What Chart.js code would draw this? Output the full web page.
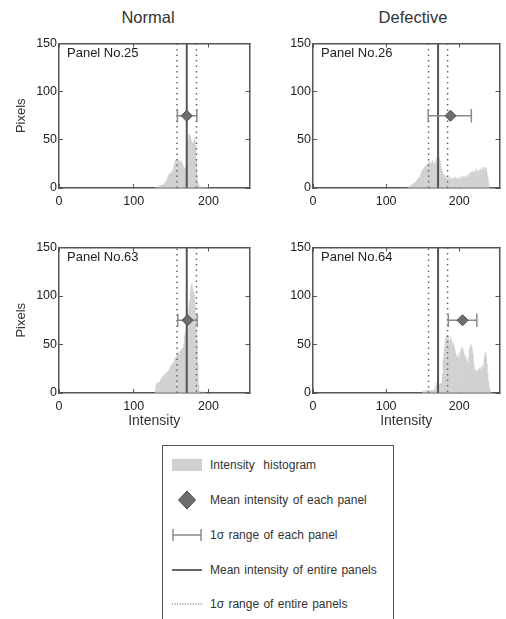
<!DOCTYPE html>
<html>
<head>
  <meta charset="UTF-8">
  <title>Intensity histograms: Normal vs Defective panels</title>
  <script src="https://cdn.jsdelivr.net/npm/chart.js"></script>
  <style>
    body { margin: 0; width: 506px; height: 619px; overflow: hidden; background: #fff;
           font-family: "Liberation Sans", Arial, sans-serif; color: #333; position: relative; }
    canvas, .colTitle, #legend { position: absolute; }
    .colTitle { top: 8px; width: 200px; font-size: 16.5px; text-align: center; color: #333; }
    #legend { left: 162px; top: 445px; width: 230px; height: 200px; border: 1px solid #555; }
    .row { position: absolute; left: 0; width: 228px; height: 20px; font-size: 12px; word-spacing: 1px; }
    .row svg { position: absolute; left: 9px; top: 0; }
    .row span { position: absolute; left: 47px; top: 0; line-height: 20px; white-space: nowrap; }
  </style>
</head>
<body>
  <div class="colTitle" style="left:48px">Normal</div>
  <div class="colTitle" style="left:313px">Defective</div>

  <canvas id="c25" width="256" height="185" style="left:0;top:30px"></canvas>
  <canvas id="c26" width="252" height="185" style="left:254px;top:30px"></canvas>
  <canvas id="c63" width="256" height="196" style="left:0;top:234px"></canvas>
  <canvas id="c64" width="252" height="196" style="left:254px;top:234px"></canvas>

  <div id="legend">
    <div class="row" style="top:9px">
      <svg width="34" height="20"><rect x="0" y="4" width="30" height="12" fill="#d0d0d0"/></svg>
      <span>Intensity&nbsp; histogram</span>
    </div>
    <div class="row" style="top:44px">
      <svg width="34" height="20"><polygon points="15,1 23.5,10 15,19 6.5,10" fill="#6e6e6e" stroke="#4a4a4a" stroke-width="1"/></svg>
      <span>Mean intensity of each panel</span>
    </div>
    <div class="row" style="top:79px">
      <svg width="34" height="20"><path d="M1 4 V16 M1 10 H29 M29 4 V16" stroke="#8a8a8a" stroke-width="1.5" fill="none"/></svg>
      <span>1σ range of each panel</span>
    </div>
    <div class="row" style="top:114px">
      <svg width="34" height="20"><path d="M0 10 H30" stroke="#333" stroke-width="1.5"/></svg>
      <span>Mean intensity of entire panels</span>
    </div>
    <div class="row" style="top:148px">
      <svg width="34" height="20"><path d="M0 10 H30" stroke="#555" stroke-width="1.2" stroke-dasharray="1 1.6"/></svg>
      <span>1σ range of entire panels</span>
    </div>
  </div>

  <script>
    // histogram counts per intensity value, starting at histStartXX
    const histStart25 = 128;
    const hist25 = [0,1,0,1,1,1,2,2,3,3,
                    3,4,4,5,6,7,8,10,12,14,
                    15,15,16,17,18,20,24,27,29,28,
                    30,29,28,27,28,29,27,26,24,22,
                    20,21,22,30,45,
                    52,55,56,54,50,47,46,48,50,52,
                    45,30,14,6,3,2,1,
                    1,2,1,0,1,1,0,1,0,1];

    const histStart26 = 130;
    const hist26 = [1,1,2,2,3,3,4,4,5,6,
                    6,7,8,9,10,11,12,14,16,18,
                    19,20,21,22,24,22,25,26,25,27,
                    28,25,26,29,27,24,26,28,25,30,
                    34,36,33,30,28,22,20,18,15,14,
                    13,12,11,12,10,11,10,12,9,10,
                    11,10,9,10,12,11,10,9,11,10,
                    9,10,12,11,10,13,11,10,12,13,
                    11,12,14,13,15,16,15,17,16,18,
                    17,16,18,20,19,17,18,16,19,20,
                    18,19,21,22,20,18,22,21,16,12,
                    6,2,0];

    const histStart63 = 128;
    const hist63 = [0,3,8,10,10,11,10,12,
                    14,15,16,17,18,19,20,20,21,22,
                    22,24,25,27,28,29,30,31,33,35,
                    37,38,40,41,42,40,43,44,45,46,
                    47,50,58,62,64,66,
                    78,85,90,96,104,112,113,108,104,102,
                    92,80,65,55,30,8,2,
                    1,0,0,2,0,1,0];

    const histStart64 = 150;
    const hist64 = [1,2,2,2,2,3,2,3,2,3,
                    3,2,3,3,2,3,4,5,8,11,
                    4,2,8,9,10,9,10,20,35,42,
                    48,55,58,60,57,59,55,54,58,52,
                    55,50,52,48,45,42,38,36,40,35,
                    38,42,44,46,48,45,43,40,35,38,
                    34,32,30,38,45,48,50,48,44,40,
                    30,25,23,22,24,22,25,23,26,24,
                    27,25,28,26,35,40,42,38,30,20,
                    12,6,3,1,0,0];

    const panelNames = ['Panel No.25', 'Panel No.26', 'Panel No.63', 'Panel No.64'];
    const panelMean = [171, 188, 172, 204.5];
    const panelLow = [158.5, 157.5, 159, 185];
    const panelHigh = [184.5, 216.5, 185, 224];
    const entireMean = 171;
    const entireLow = 158;
    const entireHigh = 184;
    const markerLevel = 75;
    const capHalf = 7;

    const xTicks = [0, 100, 200];
    const yTicks = [0, 50, 100, 150];

    const fontFamily = '"Liberation Sans", Arial, sans-serif';
    const axisColor = '#555';

    // writes "Panel No.xx" in the upper left corner of the plot
    const panelLabel = {
      id: 'panelLabel',
      afterDraw(chart, args, opts) {
        const { ctx, chartArea } = chart;
        ctx.save();
        ctx.font = '13px ' + fontFamily;
        ctx.fillStyle = '#222';
        ctx.textBaseline = 'middle';
        ctx.fillText(opts.text, chartArea.left + 8, chartArea.top + 10);
        ctx.restore();
      }
    };

    function makePanel(id, idx, start, counts, showYTitle, showXTitle, padRight, xHeight) {
      const hist = counts.map((c, i) => ({ x: start + i, y: c }));
      const lo = panelLow[idx], hi = panelHigh[idx];
      const errBar = [
        { x: lo, y: markerLevel - capHalf }, { x: lo, y: markerLevel + capHalf }, { x: lo, y: null },
        { x: lo, y: markerLevel }, { x: hi, y: markerLevel }, { x: hi, y: null },
        { x: hi, y: markerLevel - capHalf }, { x: hi, y: markerLevel + capHalf }
      ];
      const sigmaLines = [
        { x: entireLow, y: 0 }, { x: entireLow, y: 150 }, { x: entireLow, y: null },
        { x: entireHigh, y: 150 }, { x: entireHigh, y: 0 }
      ];

      new Chart(document.getElementById(id), {
        type: 'bar',
        data: {
          datasets: [
            { type: 'scatter', data: [{ x: panelMean[idx], y: markerLevel }], pointStyle: 'rectRot',
              pointRadius: 5.5, backgroundColor: '#6e6e6e', borderColor: '#4a4a4a', borderWidth: 1, order: 0 },
            { type: 'line', data: errBar, borderColor: '#8a8a8a', borderWidth: 1.5, pointRadius: 0,
              spanGaps: false, order: 1 },
            { type: 'line', data: [{ x: entireMean, y: 0 }, { x: entireMean, y: 150 }], borderColor: '#555',
              borderWidth: 2, pointRadius: 0, order: 2 },
            { type: 'line', data: sigmaLines, borderColor: '#666', borderWidth: 1.5, borderDash: [1.5, 4],
              pointRadius: 0, spanGaps: false, order: 3 },
            // bars slightly wider than one bin so no seams show between neighbours
            { data: hist, backgroundColor: '#d0d0d0', borderWidth: 0,
              barPercentage: 1.6, categoryPercentage: 1, order: 10 }
          ]
        },
        options: {
          responsive: false,
          animation: false,
          layout: { padding: { top: 12, left: 0, right: padRight, bottom: 0 } },
          plugins: {
            legend: { display: false },
            tooltip: { enabled: false },
            panelLabel: { text: panelNames[idx] }
          },
          scales: {
            x: {
              type: 'linear', min: 0, max: 255, offset: false,
              afterBuildTicks: s => { s.ticks = xTicks.map(v => ({ value: v })); },
              ticks: { color: '#222', font: { family: fontFamily, size: 12.5 }, padding: 10, maxRotation: 0 },
              grid: { offset: false, drawOnChartArea: false, drawTicks: true, tickLength: -4, color: axisColor },
              border: { color: axisColor, width: 1.5 },
              title: { display: showXTitle, text: 'Intensity', color: '#333',
                       font: { family: fontFamily, size: 14 }, padding: { top: 0, bottom: 0 } },
              afterFit: s => { s.height = xHeight; }
            },
            x2: {
              type: 'linear', position: 'top', min: 0, max: 255, offset: false,
              afterBuildTicks: s => { s.ticks = xTicks.map(v => ({ value: v })); },
              ticks: { display: false },
              grid: { offset: false, drawOnChartArea: false, drawTicks: true, tickLength: -4, color: axisColor },
              border: { color: axisColor, width: 1.5 },
              afterFit: s => { s.height = 0; }
            },
            y: {
              min: 0, max: 150,
              afterBuildTicks: s => { s.ticks = yTicks.map(v => ({ value: v })); },
              ticks: { color: '#222', font: { family: fontFamily, size: 12.5 }, padding: 6 },
              grid: { drawOnChartArea: false, drawTicks: true, tickLength: -4, color: axisColor },
              border: { color: axisColor, width: 1.5 },
              title: { display: showYTitle, text: 'Pixels', color: '#333',
                       font: { family: fontFamily, size: 13 }, padding: { top: 14, bottom: 0 } },
              afterFit: s => { s.width = 59; }
            },
            y2: {
              position: 'right', min: 0, max: 150,
              afterBuildTicks: s => { s.ticks = yTicks.map(v => ({ value: v })); },
              ticks: { display: false },
              grid: { drawOnChartArea: false, drawTicks: true, tickLength: -4, color: axisColor },
              border: { color: axisColor, width: 1.5 },
              afterFit: s => { s.width = 0; }
            }
          }
        },
        plugins: [panelLabel]
      });
    }

    makePanel('c25', 0, histStart25, hist25, true, false, 4, 27);
    makePanel('c26', 1, histStart26, hist26, false, false, 1, 27);
    makePanel('c63', 2, histStart63, hist63, true, true, 4, 37);
    makePanel('c64', 3, histStart64, hist64, false, true, 1, 37);
  </script>
</body>
</html>
